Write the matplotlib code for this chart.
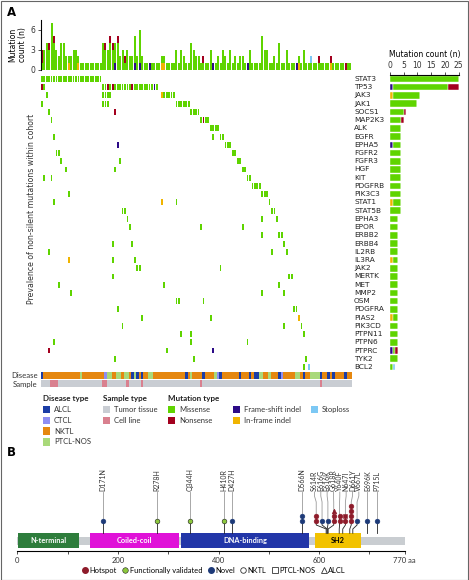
import numpy as np
import matplotlib.pyplot as plt
from matplotlib.patches import Rectangle
from matplotlib.lines import Line2D

plt.rcParams['font.family'] = ['Liberation Sans Narrow', 'DejaVu Sans']
WIDE = ['Lato', 'DejaVu Sans']

# ---------------- panel A data ----------------
n_samples = 127
genes = ["STAT3", "TP53", "JAK3", "JAK1", "SOCS1", "MAP2K3", "ALK", "EGFR", "EPHA5",
         "FGFR2", "FGFR3", "HGF", "KIT", "PDGFRB", "PIK3C3", "STAT1", "STAT5B", "EPHA3",
         "EPOR", "ERBB2", "ERBB4", "IL2RB", "IL3RA", "JAK2", "MERTK", "MET", "MMP2", "OSM",
         "PDGFRA", "PIAS2", "PIK3CD", "PTPN11", "PTPN6", "PTPRC", "TYK2", "BCL2"]

gene_samples = {
    "STAT3": list(range(0, 25)),
    "TP53": [0, 1] + list(range(25, 48)),
    "JAK3": [2, 25, 26, 27, 28, 49, 50, 51, 52, 53, 54],
    "JAK1": [0, 25, 26, 27, 55, 56, 57, 58, 59, 60],
    "SOCS1": [3, 30, 61, 62, 63, 64],
    "MAP2K3": [4, 65, 66, 67, 68],
    "ALK": [69, 70, 71, 72],
    "EGFR": [5, 70, 73, 74],
    "EPHA5": [31, 75, 76, 77],
    "FGFR2": [6, 7, 78, 79],
    "FGFR3": [8, 32, 80, 81],
    "HGF": [10, 30, 82, 83],
    "KIT": [1, 4, 84, 85],
    "PDGFRB": [86, 87, 88, 89],
    "PIK3C3": [11, 90, 91, 92],
    "STAT1": [5, 49, 55, 93],
    "STAT5B": [33, 34, 94, 95],
    "EPHA3": [35, 90, 96],
    "EPOR": [36, 65, 82],
    "ERBB2": [90, 97, 98],
    "ERBB4": [29, 37, 99],
    "IL2RB": [3, 94, 100],
    "IL3RA": [11, 29, 38],
    "JAK2": [39, 40, 73],
    "MERTK": [29, 101, 102],
    "MET": [7, 50, 97],
    "MMP2": [12, 90, 99],
    "OSM": [55, 56, 66],
    "PDGFRA": [31, 103, 104],
    "PIAS2": [41, 69, 105],
    "PIK3CD": [33, 99, 106],
    "PTPN11": [57, 61, 107],
    "PTPN6": [5, 61, 84],
    "PTPRC": [3, 51, 70],
    "TYK2": [30, 62, 108],
    "BCL2": [107, 109],
}
# non-missense hits (gene, sample)
nonsense_hits = [("TP53", 0), ("TP53", 27), ("TP53", 29), ("TP53", 37),
                 ("SOCS1", 30), ("MAP2K3", 66), ("PTPRC", 3)]
frameshift_hits = [("TP53", 46), ("EPHA5", 31), ("PTPRC", 70)]
inframe_hits = [("JAK3", 49), ("STAT1", 49), ("IL3RA", 11), ("PIAS2", 105)]
stoploss_hits = [("BCL2", 109)]

# per-sample mutation count (top bars)
sample_total = [3, 3, 4, 4, 7, 5, 3, 2, 4, 4, 2, 2, 2, 3, 3, 2,
                1, 1, 1, 1, 1, 1, 1, 1, 1,
                4, 4, 3, 5, 4, 4, 5, 2, 3, 2, 3, 2, 2, 5, 2, 6, 2,
                1, 1, 1, 1, 1, 1, 1,
                2, 2, 1, 1, 1, 1, 3, 1, 3, 2, 1, 1, 4, 3, 2, 2, 1, 2, 1, 1, 3, 1, 1, 2,
                1, 3, 2, 1, 3, 1, 2, 1, 2,
                2, 1, 1, 3, 1, 1, 1, 1, 5, 3, 3, 1, 1, 2, 1, 4, 1, 1, 3, 1, 1, 1, 1, 2,
                1, 3, 1, 1, 2, 1, 1, 2, 1, 1, 1, 1, 2,
                1, 1, 1, 1, 1, 1, 1, 1]
top_nonsense = [0, 0, 3, 5, 26, 28, 29, 31, 34, 66, 113, 118, 124]
top_frameshift = [30, 38, 40, 44, 70, 84, 104]
top_inframe = [11, 15, 49, 50, 105, 118]
top_stoploss = [110]

disease_runs = [("ALCL", 1), ("NKTL", 15), ("PTCL-NOS", 1), ("NKTL", 9), ("CTCL", 1),
                ("PTCL-NOS", 2), ("NKTL", 2), ("PTCL-NOS", 2), ("NKTL", 1), ("PTCL-NOS", 2),
                ("NKTL", 1), ("ALCL", 1), ("PTCL-NOS", 1), ("ALCL", 1), ("NKTL", 1),
                ("ALCL", 1), ("NKTL", 2), ("PTCL-NOS", 2), ("NKTL", 13), ("ALCL", 1),
                ("NKTL", 1), ("PTCL-NOS", 1), ("NKTL", 4), ("ALCL", 1), ("NKTL", 4),
                ("PTCL-NOS", 1), ("CTCL", 1), ("ALCL", 1), ("NKTL", 7), ("ALCL", 1),
                ("NKTL", 3), ("ALCL", 1), ("NKTL", 1), ("ALCL", 2), ("PTCL-NOS", 2),
                ("NKTL", 2), ("PTCL-NOS", 1), ("NKTL", 3), ("ALCL", 1), ("CTCL", 1),
                ("NKTL", 5), ("PTCL-NOS", 2), ("NKTL", 1), ("ALCL", 1), ("NKTL", 2),
                ("PTCL-NOS", 4), ("ALCL", 1), ("NKTL", 2), ("ALCL", 1), ("NKTL", 1),
                ("ALCL", 1), ("NKTL", 4), ("ALCL", 1), ("NKTL", 2)]
cell_line_samples = [4, 5, 6, 25, 26, 35, 41, 65, 114]

disease_types = ["ALCL", "CTCL", "NKTL", "PTCL-NOS"]
sample_types = ["Tumor tissue", "Cell line"]
mutation_types = ["missense", "nonsense", "frameshift", "inframe", "stoploss"]
mutation_names = ["Missense", "Nonsense", "Frame-shift indel", "In-frame indel", "Stoploss"]

# ---------------- panel B data ----------------
mut_labels = ["D171N", "R278H", "Q344H", "H410R", "D427H", "D566N", "S614R", "E616G",
              "E616K", "G618R", "Y640F", "N647I", "D661Y", "V667L", "E696K", "P715L"]
mut_pos = [171, 278, 344, 410, 427, 566, 614, 616, 616, 618, 640, 647, 661, 667, 696, 715]
mut_class = ["novel", "validated", "validated", "validated", "novel", "novel", "hotspot",
             "novel", "novel", "hotspot", "hotspot", "hotspot", "hotspot", "novel",
             "novel", "novel"]
# one character per case, bottom to top: o = NKTL, s = PTCL-NOS, ^ = ALCL
mut_cases = ["o", "o", "o", "o", "o", "oo", "oo", "o", "o", "oo^", "oo", "os", "oooo",
             "o", "o", "o"]
domain_names = ["N-terminal", "Coiled-coil", "DNA-binding", "SH2"]
domain_start = [2, 144, 325, 592]
domain_end = [122, 322, 580, 684]
protein_length = 770

# ---------------- styles ----------------
mut_colors = {"missense": "#5fd400", "nonsense": "#a3001e", "frameshift": "#2c0b87",
              "inframe": "#f0b400", "stoploss": "#7cc8f4"}
disease_colors = {"ALCL": "#1b3da6", "CTCL": "#8e8ef2", "NKTL": "#e5870f",
                  "PTCL-NOS": "#a9d97a"}
sample_colors = {"Tumor tissue": "#c9cdd3", "Cell line": "#d9808f"}
domain_colors = ["#2e7d3c", "#e012d8", "#2236a8", "#f2c200"]
domain_text = ["white", "white", "white", "black"]
class_colors = {"hotspot": "#8e1b2a", "validated": "#8cc83c", "novel": "#1d3a78"}
shape_marker = {"o": "o", "s": "s", "^": "^"}

W, H = 469, 580
fig = plt.figure(figsize=(W / 100, H / 100), dpi=100)


def pax(x0, y0, x1, y1):
    return fig.add_axes([x0 / W, 1 - y1 / H, (x1 - x0) / W, (y1 - y0) / H])


def ftext(x, y, s, **kw):
    fig.text(x / W, 1 - y / H, s, **kw)


def fbox(x, y, w, h, color):
    fig.add_artist(Rectangle((x / W, 1 - (y + h) / H), w / W, h / H, color=color,
                             lw=0, transform=fig.transFigure))


X0, X1 = 40.5, 40.5 + 2.45 * n_samples
ROW_TOP, ROW_BOT = 74.85, 371.1

# ---- top bars (per-sample count) ----
ax_top = pax(X0, 19.8, X1, 69.5)
xs = np.arange(n_samples) + 0.5


def col_counts(cols):
    c = np.zeros(n_samples)
    for k in cols:
        c[k] += 1
    return c


assert len(sample_total) == n_samples
totals = np.array(sample_total, dtype=float)
fs_c = col_counts(top_frameshift)
if_c = col_counts(top_inframe)
sl_c = col_counts(top_stoploss)
ns_c = col_counts(top_nonsense)
ms_c = totals - fs_c - if_c - sl_c - ns_c
bottom = np.zeros(n_samples)
for arr, key in [(fs_c, "frameshift"), (if_c, "inframe"), (ms_c, "missense"),
                 (sl_c, "stoploss"), (ns_c, "nonsense")]:
    ax_top.bar(xs, arr, bottom=bottom, width=0.8, color=mut_colors[key], lw=0)
    bottom += arr
ax_top.set_xlim(0, n_samples)
ax_top.set_ylim(0, 7.5)
for s in ["top", "right", "bottom"]:
    ax_top.spines[s].set_visible(False)
ax_top.spines["left"].set_linewidth(0.8)
ax_top.set_xticks([])
ax_top.set_yticks([0, 3, 6])
ax_top.tick_params(axis="y", labelsize=5.5, length=2, width=0.6, pad=1.5, colors="#333")
ax_top.set_ylabel("Mutation\ncount (n)", fontsize=5.5, labelpad=3, linespacing=1.0)

# ---- oncoprint matrix ----
ax_m = pax(X0, ROW_TOP, X1, ROW_BOT)
hit_type = {}
for lst, key in [(nonsense_hits, "nonsense"), (frameshift_hits, "frameshift"),
                 (inframe_hits, "inframe"), (stoploss_hits, "stoploss")]:
    for g, s in lst:
        hit_type[(g, s)] = key
for gi, g in enumerate(genes):
    for key in mutation_types:
        cols = [s for s in gene_samples[g] if hit_type.get((g, s), "missense") == key]
        if cols:
            ax_m.bar(np.array(cols) + 0.5, 0.72, bottom=gi - 0.36, width=0.74,
                     color=mut_colors[key], lw=0)
ax_m.set_xlim(0, n_samples)
ax_m.set_ylim(len(genes) - 0.5, -0.5)
ax_m.axis("off")
for gi, g in enumerate(genes):
    ax_m.text(354 / W, gi, g, transform=ax_m.get_yaxis_transform().__class__(
        fig.transFigure, ax_m.transData), fontsize=5.3, va="center", ha="left",
        color="#222")
ftext(31, 209, "Prevalence of non-silent mutations within cohort", rotation=90,
      fontsize=5.6, ha="center", va="center", color="#333")

# ---- right bars (per-gene count) ----
ax_r = pax(390, ROW_TOP, 458.7, ROW_BOT)
left = np.zeros(len(genes))
for key in ["frameshift", "inframe", "missense", "nonsense", "stoploss"]:
    vals = np.array([sum(1 for s in gene_samples[g]
                         if hit_type.get((g, s), "missense") == key) for g in genes],
                    dtype=float)
    ax_r.barh(np.arange(len(genes)), vals, left=left, height=0.8,
              color=mut_colors[key], edgecolor="white", lw=0.3)
    left += vals
ax_r.set_xlim(0, 25)
ax_r.set_ylim(len(genes) - 0.5, -0.5)
for s in ["bottom", "right", "left"]:
    ax_r.spines[s].set_visible(False)
ax_r.spines["top"].set_linewidth(0.8)
ax_r.set_yticks([])
ax_r.xaxis.tick_top()
ax_r.set_xticks(np.arange(0, 26, 5))
ax_r.tick_params(axis="x", labelsize=5.5, length=2, width=0.6, pad=1.5, colors="#333")
ax_r.xaxis.set_label_position("top")
ax_r.set_xlabel("Mutation count (n)", fontsize=5.5, labelpad=3)

# ---- disease / sample tracks ----
ax_d = pax(X0, 371.7, X1, 379.3)
start = 0
for dtype, n in disease_runs:
    ax_d.bar(np.arange(start, start + n) + 0.5, 1, width=1.0,
             color=disease_colors[dtype], lw=0)
    start += n
ax_d.set_xlim(0, n_samples)
ax_d.set_ylim(0, 1)
ax_d.axis("off")
ax_s = pax(X0, 380.0, X1, 387.3)
stype = ["Cell line" if i in cell_line_samples else "Tumor tissue" for i in range(n_samples)]
ax_s.bar(xs, 1, width=1.0, color=[sample_colors[t] for t in stype], lw=0)
ax_s.set_xlim(0, n_samples)
ax_s.set_ylim(0, 1)
ax_s.axis("off")
ftext(37.5, 375.5, "Disease", ha="right", va="center", fontsize=5.6, family=WIDE,
      color="#333")
ftext(37.5, 384, "Sample", ha="right", va="center", fontsize=5.6, family=WIDE,
      color="#333")

# ---- legend panel A ----
row_y = [409.3, 420.2, 431.1, 442.0]
ftext(43, 398, "Disease type", fontsize=5.8, weight="bold", va="center", family=WIDE,
      color="#222")
ftext(103, 398, "Sample type", fontsize=5.8, weight="bold", va="center", family=WIDE,
      color="#222")
ftext(168, 398, "Mutation type", fontsize=5.8, weight="bold", va="center", family=WIDE,
      color="#222")
for i, d in enumerate(disease_types):
    fbox(43, row_y[i] - 3.6, 7.4, 7.2, disease_colors[d])
    ftext(54, row_y[i], d, fontsize=5.5, va="center", family=WIDE, color="#333")
for i, s in enumerate(sample_types):
    fbox(103, row_y[i] - 3.6, 7.4, 7.2, sample_colors[s])
    ftext(114, row_y[i], s, fontsize=5.5, va="center", family=WIDE, color="#333")
mcol_x = [168, 233, 311]
for i, (key, name) in enumerate(zip(mutation_types, mutation_names)):
    cx = mcol_x[i // 2]
    ry = row_y[i % 2]
    fbox(cx, ry - 3.6, 7.4, 7.2, mut_colors[key])
    ftext(cx + 11, ry, name, fontsize=5.5, va="center", family=WIDE, color="#333")

ftext(7, 13, "A", fontsize=8.5, weight="bold", va="center", family=['DejaVu Sans'])
ftext(7, 453, "B", fontsize=8.5, weight="bold", va="center", family=['DejaVu Sans'])

# ---------------- panel B ----------------
ax_b = pax(17.3, 458, 17.3 + 0.503 * protein_length, 551)
ax_b.set_xlim(0, protein_length)
ax_b.set_ylim(0, 93)
ax_b.add_patch(Rectangle((0, 6), protein_length, 8.5, color="#c9cdd1", lw=0))
for name, s, e, c, tc in zip(domain_names, domain_start, domain_end, domain_colors,
                             domain_text):
    ax_b.add_patch(Rectangle((s, 2.7), e - s, 15, color=c, lw=0))
    ax_b.text((s + e) / 2, 10.2, name, ha="center", va="center", fontsize=5.3,
              weight="bold", color=tc, family=WIDE)


def spread(pos, gap):
    groups = []
    for p in pos:
        groups.append([p])
        while len(groups) > 1:
            g1, g2 = groups[-2], groups[-1]
            end1 = np.mean(g1) + (len(g1) - 1) * gap / 2
            start2 = np.mean(g2) - (len(g2) - 1) * gap / 2
            if start2 - end1 < gap:
                groups[-2:] = [g1 + g2]
            else:
                break
    out = []
    for g in groups:
        c = np.mean(g)
        out += [c + (i - (len(g) - 1) / 2) * gap for i in range(len(g))]
    return out


marker_x = spread(mut_pos, 11.6)
label_x = spread(mut_pos, 12.6)
base_y, step, dom_top = 30, 5, 17.7
for lab, p, mx, lx, cls, cases in zip(mut_labels, mut_pos, marker_x, label_x,
                                      mut_class, mut_cases):
    top_y = base_y + step * (len(cases) - 1)
    # stem to the protein
    if abs(mx - p) > 0.5:
        ax_b.plot([mx, mx, p, p], [top_y, 26, 22, dom_top], color="#222", lw=0.6,
                  zorder=2)
    else:
        ax_b.plot([mx, mx], [top_y, dom_top], color="#222", lw=0.6, zorder=2)
    # leader to label
    ax_b.plot([mx, mx, lx, lx], [top_y, 49, 55, 59], color="#9a9a9a", lw=0.6, zorder=1)
    ax_b.text(lx, 60, lab, rotation=90, ha="center", va="bottom", fontsize=5.0,
              family=WIDE, color="#333")
    for k, ch in enumerate(cases):
        ax_b.plot(mx, base_y + step * k, marker=shape_marker[ch], ms=3.4,
                  color=class_colors[cls], mec="#222" if cls == "validated" else class_colors[cls],
                  mew=0.4, zorder=3, clip_on=False)
for s in ["top", "right", "left"]:
    ax_b.spines[s].set_visible(False)
ax_b.spines["bottom"].set_bounds(0, protein_length)
ax_b.spines["bottom"].set_linewidth(0.8)
ax_b.set_yticks([])
ticks = list(range(0, 701, 100)) + [protein_length]
ax_b.set_xticks(ticks)
ax_b.set_xticklabels(["0", "", "200", "", "400", "", "600", "", "770 aa"])
ax_b.tick_params(axis="x", labelsize=5.5, length=2.5, width=0.6, pad=2, colors="#333")
for t in ax_b.get_xticklabels():
    t.set_family(WIDE)

handles = [
    Line2D([], [], ls="", marker="o", ms=4, color=class_colors["hotspot"]),
    Line2D([], [], ls="", marker="o", ms=4, color=class_colors["validated"], mec="#222",
           mew=0.4),
    Line2D([], [], ls="", marker="o", ms=4, color=class_colors["novel"]),
    Line2D([], [], ls="", marker="o", ms=4, mfc="white", mec="#333", mew=0.6),
    Line2D([], [], ls="", marker="s", ms=4, mfc="white", mec="#333", mew=0.6),
    Line2D([], [], ls="", marker="^", ms=4, mfc="white", mec="#333", mew=0.6),
]
names = ["Hotspot", "Functionally validated", "Novel", "NKTL", "PTCL-NOS", "ALCL"]
fig.legend(handles, names, loc="center", bbox_to_anchor=(214 / W, 1 - 570.5 / H),
           ncol=6, frameon=False, handlelength=0.8, handletextpad=0.2,
           columnspacing=0.7, prop={"size": 5.4, "family": WIDE}, borderpad=0)

fig.add_artist(Rectangle((0.5 / W, 0.5 / H), (W - 1.5) / W, (H - 1.5) / H, fill=False,
                         ec="#666", lw=0.8, transform=fig.transFigure))

fig.savefig("out.png", dpi=100)
